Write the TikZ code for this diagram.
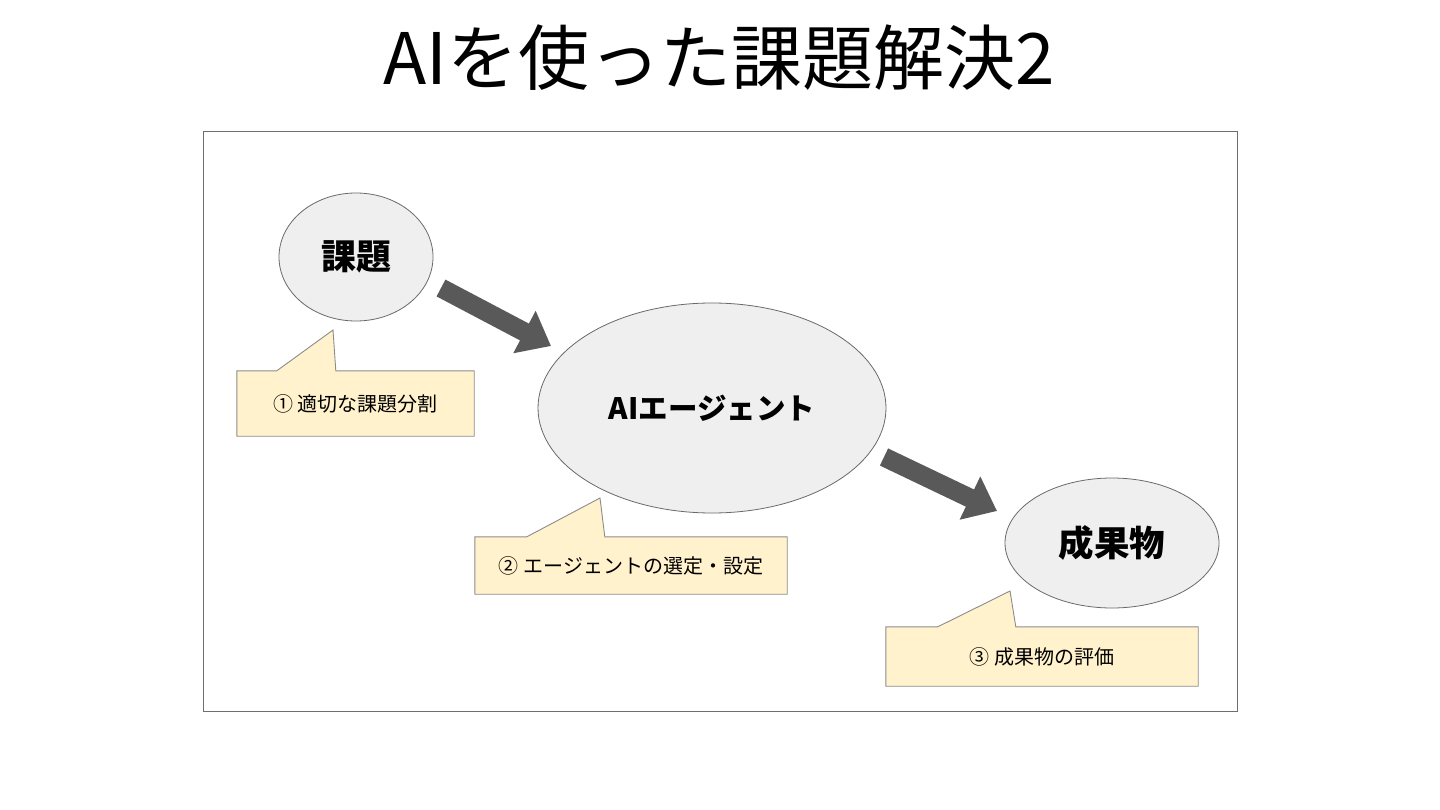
\documentclass[tikz,border=0pt]{standalone}
\usepackage{fontspec}
\setmainfont{Noto Sans CJK JP}
\usepackage{xcolor}
\usepackage{tikz}
\usetikzlibrary{arrows.meta,positioning,calc,shapes.geometric}
\definecolor{framegray}{HTML}{6E6E6E}
\definecolor{bubblefill}{HTML}{EFEFEF}
\definecolor{bubbleline}{HTML}{6A6A6A}
\definecolor{notefill}{HTML}{FFF2CC}
\definecolor{noteline}{HTML}{8C8C8C}
\definecolor{arrowgray}{HTML}{595959}
\tikzset{
  frame/.style={draw=framegray, line width=1pt, fill=white},
  bubble/.style={ellipse, draw=bubbleline, fill=bubblefill, line width=0.8pt, inner sep=0pt, font=\bfseries},
  notetext/.style={rectangle, inner sep=0pt, font=\fontsize{20}{24}\selectfont},
  notebox/.style={draw=noteline, fill=notefill, line width=0.9pt},
  bigarrow/.style={arrowgray, line width=19pt, -{Triangle[length=30pt,width=46pt]}},
  titletext/.style={font=\fontsize{71}{78}\selectfont}
}
\begin{document}
\begin{tikzpicture}[x=1pt,y=-1pt]
  \useasboundingbox (0,0) rectangle (1440,810);
  \node[titletext] (title) at (719,58) {AIを使った課題解決2};
  \draw[frame] (203,132) rectangle (1237,711);
  % bubbles
  \node[bubble, minimum width=154pt, minimum height=128pt, font=\bfseries\fontsize{35}{40}\selectfont] (task) at (356,257) {課題};
  \node[bubble, minimum width=348pt, minimum height=210pt, font=\bfseries\fontsize{29.5}{34}\selectfont] (agent) at (712,408) {AIエージェント};
  \node[bubble, minimum width=214pt, minimum height=130pt, font=\bfseries\fontsize{35.5}{40}\selectfont] (result) at (1112,543) {成果物};
  % arrows
  \coordinate (arrAtail) at (441,288);
  \coordinate (arrAtip) at (551,346);
  \coordinate (arrBtail) at (884,457);
  \coordinate (arrBtip) at (997,511);
  \draw[bigarrow] (arrAtail) -- (arrAtip);
  \draw[bigarrow] (arrBtail) -- (arrBtip);
  % notes
  \node[notetext, minimum width=237pt, minimum height=65pt] (noteA) at (355.5,403.5) {};
  \node[notetext, minimum width=312pt, minimum height=57pt] (noteB) at (631,565.5) {};
  \node[notetext, minimum width=312pt, minimum height=59pt] (noteC) at (1042,656.5) {};
  \coordinate (tipA) at (333,330);
  \coordinate (tipB) at (600,498);
  \coordinate (tipC) at (1010,591);
  \draw[notebox] (noteA.north west) -- ++(40,0) -- (tipA) -- ($(noteA.north west)+(99,0)$) -- (noteA.north east) -- (noteA.south east) -- (noteA.south west) -- cycle;
  \draw[notebox] (noteB.north west) -- ++(52,0) -- (tipB) -- ($(noteB.north west)+(130,0)$) -- (noteB.north east) -- (noteB.south east) -- (noteB.south west) -- cycle;
  \draw[notebox] (noteC.north west) -- ++(52,0) -- (tipC) -- ($(noteC.north west)+(130,0)$) -- (noteC.north east) -- (noteC.south east) -- (noteC.south west) -- cycle;
  \node[notetext] at (noteA) {① 適切な課題分割};
  \node[notetext] at (noteB) {② エージェントの選定・設定};
  \node[notetext] at (noteC) {③ 成果物の評価};
\end{tikzpicture}
\end{document}
